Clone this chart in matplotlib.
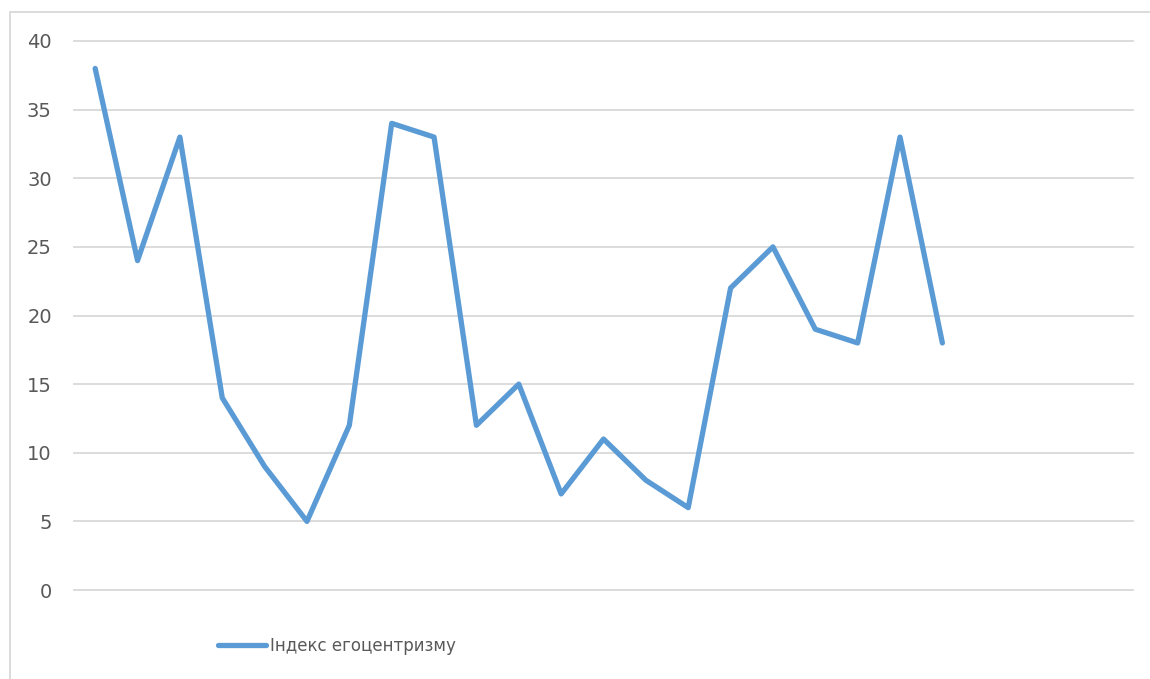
import numpy as np
import matplotlib
matplotlib.use('Agg')
import matplotlib.pyplot as plt
from matplotlib.patches import Rectangle

# egocentrism index per respondent (25 slots on category axis, 21 filled)
n_slots = 25
values = [38, 24, 33, 14, 9, 5, 12, 34, 33, 12, 15, 7, 11, 8, 6, 22, 25, 19, 18, 33, 18]
series_name = 'Індекс егоцентризму'
yticks = [0, 5, 10, 15, 20, 25, 30, 35, 40]

W, H = 1150, 679
fig = plt.figure(figsize=(W / 100, H / 100), dpi=100)

# chart frame, runs off right and bottom like in the original screenshot
fig.patches.append(Rectangle((10 / W, -0.05), 1.2, 1 - 12 / H + 0.05,
                             transform=fig.transFigure, fill=False,
                             edgecolor='#d9d9d9', linewidth=1.3))

ax = fig.add_axes([74 / W, 1 - 590 / H, (1133 - 74) / W, (590 - 41) / H])
x = np.arange(len(values))
ax.plot(x, values, color='#5b9bd5', linewidth=3.8, solid_capstyle='round',
        solid_joinstyle='round', label=series_name, zorder=3)

ax.set_xlim(-0.5, n_slots - 0.5)
ax.set_ylim(0, 40)
ax.set_yticks(yticks)
ax.set_xticks([])
ax.yaxis.grid(True, color='#d9d9d9', linewidth=1.3)
for gl in ax.get_ygridlines():
    gl.set_clip_on(False)
ax.set_axisbelow(True)
for s in ax.spines.values():
    s.set_visible(False)
ax.tick_params(axis='y', length=0, pad=16, labelsize=14, labelcolor='#595959')

fig.legend(loc='center left', bbox_to_anchor=(218 / W, 1 - 646 / H),
           frameon=False, borderpad=0, borderaxespad=0, handlelength=2.9,
           handletextpad=0.2, fontsize=12, labelcolor='#595959')

fig.savefig('out.png', dpi=100)
